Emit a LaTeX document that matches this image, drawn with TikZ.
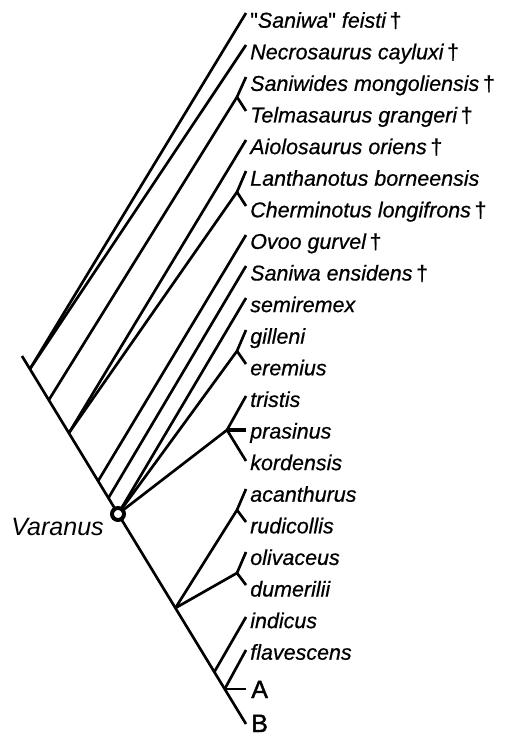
\documentclass[tikz,border=0pt]{standalone}
\usepackage{fontspec}
\setmainfont{Liberation Sans}
\newfontface\taxfont{Liberation Sans Italic}[FakeBold=0.6]
\newfontface\grpfont{Liberation Sans}[FakeBold=0.8]
\newfontface\cladefont{Liberation Sans}[FakeBold=1.6]
\tikzset{
  branch/.style={line width=2pt},
  taxon/.style={anchor=base west,inner sep=0pt,font=\taxfont\fontsize{16.1}{18}\selectfont},
  group/.style={anchor=base west,inner sep=0pt,font=\cladefont\fontsize{18.8}{21}\selectfont},
}
\newcommand{\extinct}{\,{\grpfont\dag}}
\newcommand{\qmark}{{\grpfont\XeTeXglyph\XeTeXglyphindex "quotedbl"\relax}}
\begin{document}
\begin{tikzpicture}[x=0.75pt,y=0.75pt,yscale=-1,xscale=1]
\useasboundingbox (0,0) rectangle (515,737);

%Backbone nodes
\coordinate (root) at (22,356);
\coordinate (n1) at (29.9,369);
\coordinate (n2) at (48.8,400);
\coordinate (n3) at (68.9,433);
\coordinate (n4) at (98.1,481);
\coordinate (n5) at (108.4,498);
\coordinate (var) at (118,514);
\coordinate (n6) at (175.4,608);
\coordinate (n7) at (214.3,672);
\coordinate (n8) at (224.7,689);
\coordinate (tB) at (246,724);

%Forks
\coordinate (fsan) at (237,97);
\coordinate (flan) at (237,192);
\coordinate (fgil) at (237,351);
\coordinate (ftri) at (227,430);
\coordinate (faca) at (237,510);
\coordinate (foli) at (237,573);

%Tips
\coordinate (tfei) at (246,13);
\coordinate (tnec) at (246,45);
\coordinate (tsaw) at (246,77);
\coordinate (ttel) at (246,111);
\coordinate (taio) at (246,140);
\coordinate (tlan) at (246,171);
\coordinate (tche) at (246,206);
\coordinate (tovo) at (246,235);
\coordinate (tens) at (246,266);
\coordinate (tsem) at (246,298);
\coordinate (tgil) at (246,330);
\coordinate (tere) at (246,364);
\coordinate (ttri) at (246,396);
\coordinate (tpra) at (246,430);
\coordinate (tkor) at (246,461);
\coordinate (taca) at (246,489);
\coordinate (trud) at (246,522);
\coordinate (toli) at (246,552);
\coordinate (tdum) at (246,585);
\coordinate (tind) at (246,617);
\coordinate (tfla) at (246,650);
\coordinate (tA) at (246,689);

%Straight Lines
\draw [branch] (root) -- (tB) ;
\draw [branch] (n1) -- (tfei) ;
\draw [branch] (n1) -- (tnec) ;
\draw [branch] (n2) -- (fsan) -- (tsaw) (fsan) -- (ttel) ;
\draw [branch] (n3) -- (taio) ;
\draw [branch] (n3) -- (flan) -- (tlan) (flan) -- (tche) ;
\draw [branch] (n4) -- (tovo) ;
\draw [branch] (n5) -- (tens) ;
\draw [branch] (var) -- (tsem) ;
\draw [branch] (var) -- (fgil) -- (tgil) (fgil) -- (tere) ;
\draw [branch] (var) -- (ftri) -- (ttri) (ftri) -- (tkor) ;
\draw [branch,line width=3.4pt] (ftri) -- (tpra) ;
\draw [branch] (n6) -- (faca) -- (taca) (faca) -- (trud) ;
\draw [branch] (n6) -- (foli) -- (toli) (foli) -- (tdum) ;
\draw [branch] (n7) -- (tind) ;
\draw [branch] (n8) -- (tfla) ;
\draw [branch] (n8) -- (tA) ;

%Shape: Circle
\node [circle,draw,fill=white,line width=3pt,inner sep=0pt,minimum size=9pt] (varnode) at (var) {};

% Text Node
\node [anchor=base east,inner sep=0pt,font=\fontsize{18.8}{21}\selectfont\itshape] (lvar) at (104,535) {Varanus};
% Text Node
\node [taxon] (lfei) at (250,27.7) {\qmark Saniwa\qmark\ feisti\extinct};
\node [taxon] (lnec) at (250,59.3) {Necrosaurus cayluxi\extinct};
\node [taxon] (lsaw) at (250,90.9) {Saniwides mongoliensis\extinct};
\node [taxon] (ltel) at (250,122.5) {Telmasaurus grangeri\extinct};
\node [taxon] (laio) at (250,154.1) {Aiolosaurus oriens\extinct};
\node [taxon] (llan) at (250,185.7) {Lanthanotus borneensis};
\node [taxon] (lche) at (250,217.3) {Cherminotus longifrons\extinct};
\node [taxon] (lovo) at (250,248.9) {Ovoo gurvel\extinct};
\node [taxon] (lens) at (250,280.5) {Saniwa ensidens\extinct};
\node [taxon] (lsem) at (250,312.1) {semiremex};
\node [taxon] (lgil) at (250,343.7) {gilleni};
\node [taxon] (lere) at (250,375.3) {eremius};
\node [taxon] (ltri) at (250,406.9) {tristis};
\node [taxon] (lpra) at (250,438.5) {prasinus};
\node [taxon] (lkor) at (250,470.1) {kordensis};
\node [taxon] (laca) at (250,501.7) {acanthurus};
\node [taxon] (lrud) at (250,533.3) {rudicollis};
\node [taxon] (loli) at (250,564.9) {olivaceus};
\node [taxon] (ldum) at (250,596.5) {dumerilii};
\node [taxon] (lind) at (250,628.1) {indicus};
\node [taxon] (lfla) at (250,659.7) {flavescens};
% Text Node
\node [group] (lA) at (251,698) {A};
\node [group] (lB) at (251,732) {B};

\end{tikzpicture}
\end{document}
